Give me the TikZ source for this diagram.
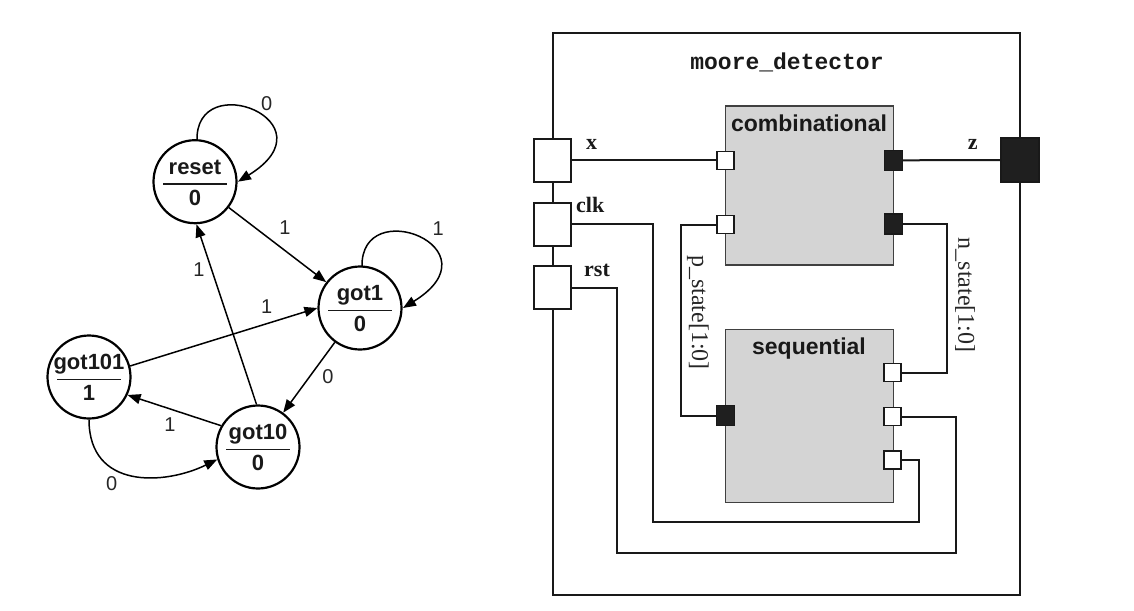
\documentclass[tikz,border=0pt]{standalone}
\usepackage{fontspec}
\setmainfont{Liberation Serif}
\newfontfamily\arialf{Liberation Sans}
\newfontfamily\timesf{Liberation Serif}
\newfontfamily\courf{Liberation Mono}
\usetikzlibrary{arrows.meta,calc}
\begin{document}
\begin{tikzpicture}[x=1pt,y=-1pt,
  state/.style={circle,draw=black,line width=2.2pt,minimum size=83pt,inner sep=0pt},
  stname/.style={anchor=base,inner sep=0pt,font=\arialf\bfseries\fontsize{22}{24}\selectfont,text=black!90},
  edge/.style={line width=1.5pt,-{Triangle[length=13pt,width=10pt]}},
  elabel/.style={inner sep=0pt,font=\arialf\fontsize{20}{22}\selectfont,text=black!85},
  wire/.style={line width=2pt,draw=black!90},
  blockbox/.style={draw=black!75,line width=1.3pt,fill=black!17,minimum width=168pt,inner sep=0pt},
  blocktitle/.style={anchor=base,inner sep=0pt,font=\arialf\bfseries\fontsize{23}{25}\selectfont,text=black!90},
  wport/.style={draw=black!90,line width=1.5pt,fill=white,minimum width=17pt,minimum height=18pt,inner sep=0pt},
  bport/.style={draw=black!90,line width=1.5pt,fill=black!88,minimum width=18pt,minimum height=20pt,inner sep=0pt},
  ioport/.style={draw=black!90,line width=2pt,fill=white,minimum width=37pt,minimum height=43pt,inner sep=0pt},
  plabel/.style={anchor=base,inner sep=0pt,font=\timesf\bfseries\fontsize{22}{24}\selectfont,text=black!90},
  slabel/.style={inner sep=0pt,rotate=-90,font=\timesf\fontsize{24}{26}\selectfont,text=black!85}
]
\useasboundingbox (0,0) rectangle (1134,610);

% ---------------- state diagram ----------------
\node[state] (reset) at (195,181.7) {};
\node[state] (got1) at (360,308) {};
\node[state] (got101) at (89,377) {};
\node[state] (got10) at (258,447) {};

\foreach \n/\t/\o in {reset/reset/0,got1/got1/0,got101/got101/1,got10/got10/0}{
  \node[stname] (\n-t) at ($(\n)+(0,-7.5)$) {\t};
  \node[stname] (\n-o) at ($(\n)+(0,23.5)$) {\o};
  \draw[line width=1.6pt,black!90] ($(\n)+(-32,2.5)$) -- ($(\n)+(32,2.5)$);
}

% self loops
\draw[edge] ($(reset)+(2,-41)$) .. controls ($(reset)+(0,-115)$) and ($(reset)+(140,-60)$) .. ($(reset)+(43,0)$);
\draw[edge] ($(got1)+(2,-41)$) .. controls ($(got1)+(0,-115)$) and ($(got1)+(140,-60)$) .. ($(got1)+(43,0)$);
\node[elabel] (l-r0) at (266.7,103.3) {0};
\node[elabel] (l-g1) at (438.3,228.3) {1};

% transitions
\draw[edge] (reset) -- (got1);
\node[elabel] (l-rg) at (285,228) {1};
\draw[edge] (got1) -- (got10);
\node[elabel] (l-g10) at (328,376.7) {0};
\draw[edge] (got101.15) -- (got1.180);
\node[elabel] (l-101) at (266.7,306.7) {1};
\draw[edge] (got10.92) -- (reset.272);
\node[elabel] (l-10r) at (199,270) {1};
\draw[edge] (got10.150) -- (got101.335);
\node[elabel] (l-10a) at (170,425) {1};
\draw[edge] (got101.270) .. controls (89,490) and (165,485) .. (got10.197);
\node[elabel] (l-a10) at (111.7,483.3) {0};

% ---------------- block diagram ----------------
\draw[wire] (552.7,33.3) rectangle (1020,595);
\node[inner sep=0pt,anchor=base,font=\courf\bfseries\fontsize{23}{25}\selectfont,text=black!90] (title) at (787,70) {moore\_detector};

% blocks
\node[blockbox,minimum height=159pt] (comb) at (809.2,185.5) {};
\node[blocktitle] (comb-t) at (809,131) {combinational};
\node[blockbox,minimum height=173.4pt] (seq) at (809.2,416) {};
\node[blocktitle] (seq-t) at (809,354) {sequential};

% block ports
\node[wport] (cin1) at (725.5,160.3) {};
\node[wport] (cin2) at (725.5,224.5) {};
\node[bport] (cout1) at (893.3,160.3) {};
\node[bport] (cout2) at (893.3,224) {};
\node[bport] (sin) at (725.5,415.5) {};
\node[wport] (sout1) at (892.7,372.5) {};
\node[wport] (sout2) at (892.7,416.5) {};
\node[wport] (sout3) at (892.7,460) {};

% top-level ports
\node[ioport] (px) at (552.3,160.3) {};
\node[ioport] (pclk) at (552.3,224.3) {};
\node[ioport] (prst) at (552.3,287.5) {};
\node[ioport,fill=black!88,minimum width=38pt,minimum height=44pt] (pz) at (1019.9,160) {};

\node[plabel] (lx) at (591.7,149.3) {x};
\node[plabel,anchor=base west] (lclk) at (576,212.7) {clk};
\node[plabel,anchor=base west] (lrst) at (584,276.7) {rst};
\node[plabel] (lz) at (972.7,149.3) {z};

% wires
\draw[wire] (px.east) -- (cin1.west);
\draw[wire] (cout1.east) -- (pz.west);
\draw[wire] (pclk.east) -- (653.3,224.3) -- (653.3,521.7) -- (919.3,521.7) |- (sout3.east);
\draw[wire] (prst.east) -- (617.3,287.5) -- (617.3,553.3) -- (956,553.3) |- (sout2.east);
\draw[wire] (cin2.west) -- (680.7,224.5) |- (sin.west);
\draw[wire] (cout2.east) -- (946.7,224) |- (sout1.east);

\node[slabel] (lps) at (698,312.5) {p\_state[1:0]};
\node[slabel] (lns) at (965,295) {n\_state[1:0]};
\end{tikzpicture}
\end{document}
